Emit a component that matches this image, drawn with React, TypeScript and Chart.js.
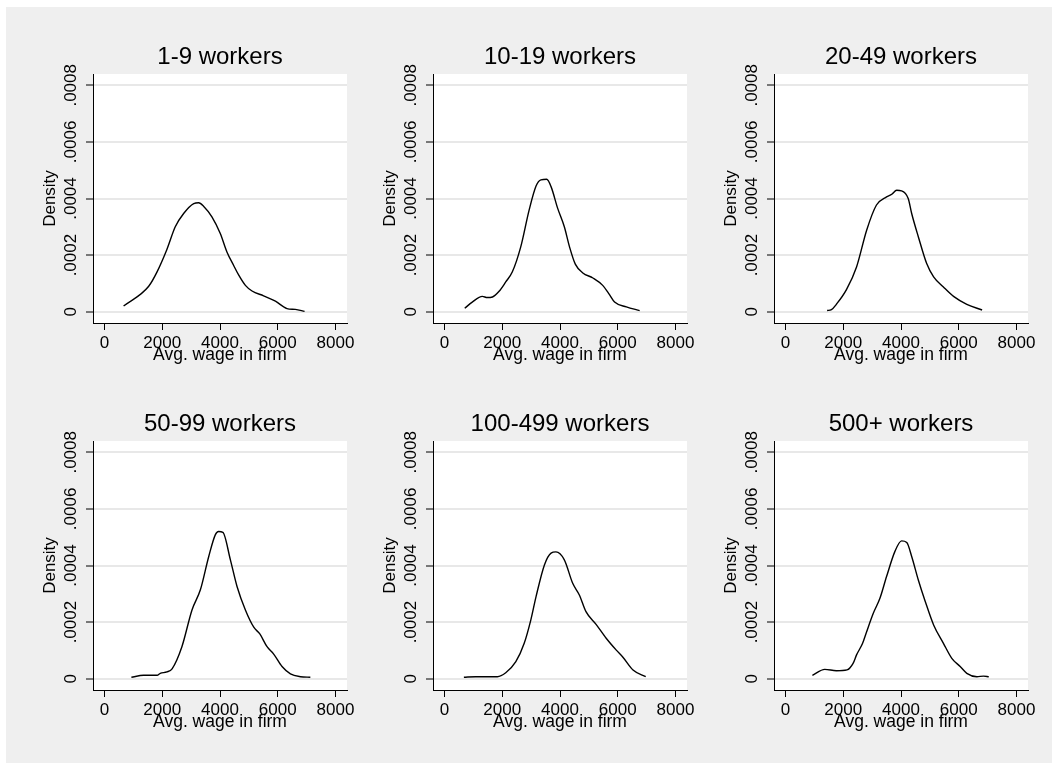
import { useEffect, useRef } from 'react';
import { Chart, registerables } from 'chart.js';

Chart.register(...registerables);

const XTICKS = [0, 2000, 4000, 6000, 8000];
const YTICKS = [0, 0.0002, 0.0004, 0.0006, 0.0008];
const X_TITLE = 'Avg. wage in firm';
const Y_TITLE = 'Density';

const TITLES = ['1-9 workers', '10-19 workers', '20-49 workers', '50-99 workers', '100-499 workers', '500+ workers'];

const WAGE_1_9 = [660, 1530, 1815, 2160, 2450, 2740, 3090, 3260, 3430, 3720, 4010, 4240, 4470, 4650, 4880, 5110, 5510, 5920, 6320, 6610, 6930];
const DENS_1_9 = [0.00002, 0.00009, 0.00014, 0.00022, 0.0003, 0.000347, 0.000382, 0.000385, 0.000373, 0.000335, 0.000276, 0.000211, 0.000164, 0.000129, 0.000093, 0.000073, 0.000056, 0.000037, 0.000011, 0.000008, 0.000001];

const WAGE_10_19 = [700, 960, 1310, 1480, 1660, 1890, 2120, 2350, 2640, 2930, 3170, 3340, 3540, 3690, 3920, 4150, 4330, 4530, 4790, 5140, 5480, 5690, 5890, 6300, 6760];
const DENS_10_19 = [0.000012, 0.000034, 0.000054, 0.00005, 0.000052, 0.000072, 0.000105, 0.000141, 0.000229, 0.000359, 0.000444, 0.000466, 0.000468, 0.000442, 0.000365, 0.0003, 0.000229, 0.000168, 0.000137, 0.000119, 0.000093, 0.000064, 0.000034, 0.000017, 0.000004];

const WAGE_20_49 = [1440, 1590, 1760, 2110, 2460, 2810, 3150, 3500, 3680, 3850, 4020, 4250, 4370, 4600, 4890, 5130, 5470, 5820, 6280, 6810];
const DENS_20_49 = [0.000004, 0.000007, 0.000026, 0.000078, 0.000158, 0.000288, 0.000377, 0.000406, 0.000415, 0.000429, 0.000427, 0.0004, 0.000347, 0.000265, 0.00017, 0.000123, 0.000087, 0.000054, 0.000026, 0.000006];

const WAGE_50_99 = [930, 1350, 1820, 1930, 2160, 2340, 2680, 3030, 3320, 3610, 3840, 3950, 4100, 4360, 4590, 4880, 5170, 5380, 5630, 5860, 6150, 6440, 6790, 7130];
const DENS_50_99 = [0.000005, 0.000012, 0.000012, 0.000019, 0.000024, 0.000035, 0.000113, 0.000243, 0.000314, 0.000432, 0.000509, 0.00052, 0.000517, 0.00042, 0.000326, 0.000243, 0.000182, 0.000158, 0.000113, 0.000087, 0.000043, 0.000017, 0.000007, 0.000005];

const WAGE_100_499 = [670, 1080, 1830, 2120, 2470, 2760, 2990, 3170, 3460, 3690, 3860, 4150, 4440, 4670, 4900, 5250, 5600, 5950, 6180, 6530, 6970];
const DENS_100_499 = [0.000005, 0.000007, 0.000007, 0.000021, 0.00006, 0.000125, 0.000208, 0.00029, 0.000402, 0.000444, 0.000448, 0.00042, 0.000337, 0.000296, 0.000237, 0.000192, 0.000143, 0.000101, 0.000076, 0.000031, 0.000007];

const WAGE_500 = [930, 1360, 1760, 2130, 2340, 2460, 2670, 2810, 3040, 3270, 3500, 3790, 4020, 4200, 4370, 4600, 4840, 5130, 5470, 5760, 6050, 6280, 6630, 6860, 7040];
const DENS_500 = [0.000012, 0.000033, 0.000028, 0.000031, 0.000054, 0.000084, 0.000125, 0.000166, 0.000231, 0.000284, 0.000361, 0.00045, 0.000487, 0.000481, 0.000432, 0.000349, 0.000273, 0.00019, 0.000125, 0.000072, 0.000043, 0.000019, 0.000007, 0.000009, 0.000007];

const SERIES_X = [WAGE_1_9, WAGE_10_19, WAGE_20_49, WAGE_50_99, WAGE_100_499, WAGE_500];
const SERIES_Y = [DENS_1_9, DENS_10_19, DENS_20_49, DENS_50_99, DENS_100_499, DENS_500];

const X_MIN = -400;
const X_MAX = 8400;
const Y_MIN = -0.00004;
const Y_MAX = 0.00084;

// layout (pixels)
const PLOT_LEFTS = [93, 433, 774];
const PLOT_TOPS = [74, 441];
const PLOT_W = 254;
const PLOT_H = 249;
const Y_AXIS_W = 60;
const TITLE_H = 40;
const X_AXIS_H = 50;
const RIGHT_PAD = 25;

const FONT = "'Liberation Sans', Arial, Helvetica, sans-serif";

const plotBg = {
  id: 'plotBg',
  beforeDraw(chart: any) {
    const { ctx, chartArea: a } = chart;
    ctx.save();
    ctx.fillStyle = '#ffffff';
    ctx.fillRect(a.left, a.top, a.right - a.left, a.bottom - a.top);
    ctx.restore();
  },
};

function Panel({ index }: { index: number }) {
  const ref = useRef<HTMLCanvasElement | null>(null);
  const col = index % 3;
  const row = Math.floor(index / 3);
  const left = PLOT_LEFTS[col] - Y_AXIS_W;
  const top = PLOT_TOPS[row] - TITLE_H;
  const width = Y_AXIS_W + PLOT_W + RIGHT_PAD;
  const height = TITLE_H + PLOT_H + X_AXIS_H;

  useEffect(() => {
    if (!ref.current) return;
    const xs = SERIES_X[index];
    const ys = SERIES_Y[index];
    const chart = new Chart(ref.current, {
      type: 'line',
      data: {
        datasets: [
          {
            data: xs.map((x, i) => ({ x, y: ys[i] })),
            borderColor: '#000000',
            borderWidth: 1.4,
            pointRadius: 0,
            fill: false,
            cubicInterpolationMode: 'monotone',
          },
        ],
      },
      options: {
        responsive: false,
        animation: false,
        devicePixelRatio: 1,
        layout: { padding: { left: 0, top: 0, right: RIGHT_PAD, bottom: 0 } },
        plugins: {
          legend: { display: false },
          tooltip: { enabled: false },
          title: {
            display: true,
            text: TITLES[index],
            fullSize: false,
            color: '#000',
            font: { family: FONT, size: 24, weight: 'normal', lineHeight: 1.2 },
            padding: { top: 9.1, bottom: 2.1 },
          },
        },
        scales: {
          x: {
            type: 'linear',
            min: X_MIN,
            max: X_MAX,
            afterBuildTicks: (s: any) => {
              s.ticks = XTICKS.map((v) => ({ value: v }));
            },
            afterFit: (s: any) => {
              s.height = X_AXIS_H;
            },
            grid: {
              drawOnChartArea: false,
              drawTicks: true,
              tickLength: 7,
              tickColor: '#000',
              tickWidth: 1,
            },
            border: { display: true, color: '#000', width: 1 },
            ticks: {
              color: '#000',
              font: { family: FONT, size: 17 },
              padding: 3,
              maxRotation: 0,
              minRotation: 0,
              autoSkip: false,
              callback: (v: any) => String(v),
            },
            title: {
              display: true,
              text: X_TITLE,
              color: '#000',
              font: { family: FONT, size: 17.5, lineHeight: 1.2 },
              padding: { top: 0, bottom: 7 },
            },
          },
          y: {
            type: 'linear',
            min: Y_MIN,
            max: Y_MAX,
            afterBuildTicks: (s: any) => {
              s.ticks = YTICKS.map((v) => ({ value: v }));
            },
            afterFit: (s: any) => {
              s.width = Y_AXIS_W;
            },
            grid: {
              color: '#e8e8e8',
              lineWidth: 2,
              drawTicks: true,
              tickLength: 7,
              tickColor: '#000',
              tickWidth: 1,
            },
            border: { display: true, color: '#000', width: 1 },
            ticks: {
              color: '#000',
              font: { family: FONT, size: 17 },
              padding: -7,
              minRotation: 90,
              maxRotation: 90,
              crossAlign: 'center',
              autoSkip: false,
              callback: (v: any) => (v === 0 ? '0' : String(v).replace(/^0/, '')),
            },
            title: {
              display: true,
              text: Y_TITLE,
              color: '#000',
              font: { family: FONT, size: 17, lineHeight: 1.2 },
              padding: { top: 7, bottom: 0 },
            },
          },
        },
      },
      plugins: [plotBg],
    } as any);
    return () => chart.destroy();
  }, [index]);

  return (
    <canvas
      ref={ref}
      width={width}
      height={height}
      style={{ position: 'absolute', left, top, width, height }}
    />
  );
}

export default function App() {
  return (
    <div style={{ position: 'absolute', left: 0, top: 0, width: 1052, height: 771, background: '#ffffff', overflow: 'hidden' }}>
      <div style={{ position: 'absolute', left: 6, top: 7, width: 1046, height: 756, background: '#efefef' }} />
      {TITLES.map((_, i) => (
        <Panel key={i} index={i} />
      ))}
    </div>
  );
}
